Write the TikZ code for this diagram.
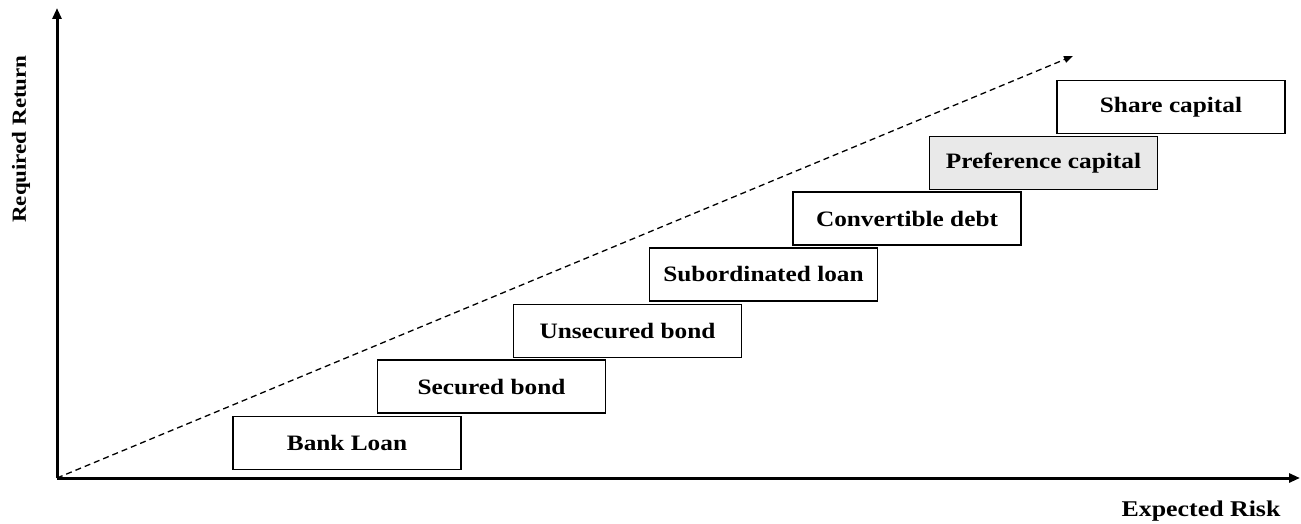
\documentclass[tikz,border=0pt]{standalone}
\usepackage{fontspec}
\setmainfont{Liberation Serif}[FakeStretch=1.15]
\usepackage{tikz}
\usetikzlibrary{positioning,arrows.meta}
\tikzset{
  tier/.style ={rectangle, draw=black, line width=1.7pt, fill=white,
                minimum width=228pt, minimum height=53pt, inner sep=0pt,
                font=\fontsize{22}{26}\selectfont\bfseries},
  pref/.style ={tier, fill=gray!17},
  axis/.style ={-{Triangle[length=11pt,width=9pt]}, line width=3pt},
  trend/.style={-{Triangle[length=9pt,width=7pt]}, line width=1.3pt,
                dash pattern=on 6pt off 4pt},
  axlab/.style={font=\fontsize{22.5}{26}\selectfont\bfseries, inner sep=0pt},
}

\begin{document}
\begin{tikzpicture}[x=1pt, y=-1pt]
  \useasboundingbox (0,0) rectangle (1301,524);

  % axes
  \coordinate (o) at (57,478);
  \coordinate (ytip) at (57,8);
  \coordinate (xtip) at (1300,478);
  \coordinate (dtip) at (1073,56);
  \draw[axis] (o) -- (ytip);
  \draw[axis] (o) -- (xtip);
  \node[axlab, rotate=90, font=\fontsize{20}{24}\selectfont\bfseries]
    (ylab) at (21,139) {Required Return};
  \node[axlab] (xlab) at (1201,511) {Expected Risk};

  % trend line
  \draw[trend] (o) -- (dtip);

  % financing instruments
  \node[tier] (bank) at (347,443)    {Bank Loan};
  \node[tier] (sec)  at (491.5,386.5) {Secured bond};
  \node[tier] (uns)  at (627.5,331)  {Unsecured bond};
  \node[tier] (sub)  at (763.5,274.5) {Subordinated loan};
  \node[tier] (conv) at (907,218.5)  {Convertible debt};
  \node[pref] (pref) at (1043.5,163) {Preference capital};
  \node[tier] (share) at (1171,107)  {Share capital};
\end{tikzpicture}
\end{document}
